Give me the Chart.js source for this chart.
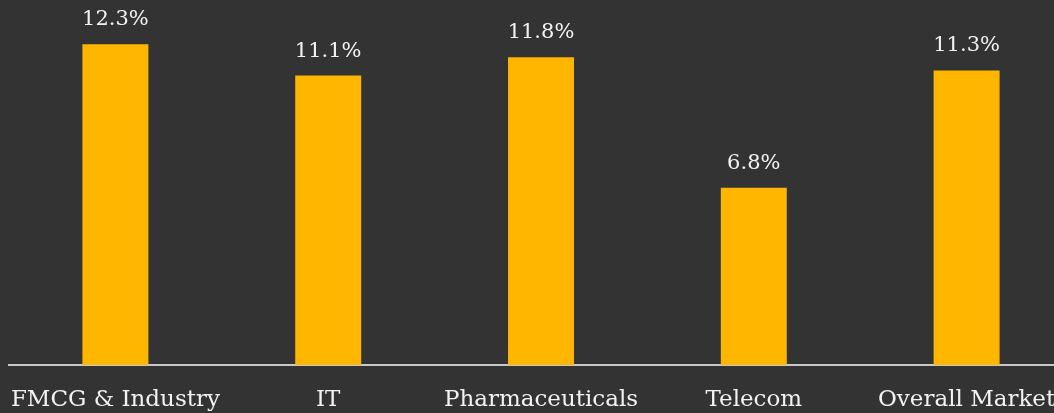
<!DOCTYPE html>
<html>
<head>
<meta charset="utf-8">
<script src="https://cdn.jsdelivr.net/npm/chart.js@4.4.7/dist/chart.umd.min.js"></script>
<style>
  html, body { margin: 0; padding: 0; background: #333333; overflow: hidden; }
  #wrap { width: 1073px; height: 413px; }
</style>
</head>
<body>
<div id="wrap"><canvas id="growthChart" width="1073" height="413"></canvas></div>
<script>
const categories = ["FMCG & Industry", "IT", "Pharmaceuticals", "Telecom", "Overall Market"];
const growthValues = [12.3, 11.1, 11.8, 6.8, 11.3];
const valueLabels = ["12.3%", "11.1%", "11.8%", "6.8%", "11.3%"];

const fontFamily = "'DejaVu Serif', 'Liberation Serif', serif";
const textColor = "#f2f2f2";

// draws the value text above each bar
const valueLabelPlugin = {
  id: "valueLabels",
  afterDatasetsDraw(chart) {
    const context = chart.ctx;
    const meta = chart.getDatasetMeta(0);
    context.save();
    context.fillStyle = textColor;
    context.font = `21px ${fontFamily}`;
    context.textAlign = "center";
    context.textBaseline = "bottom";
    meta.data.forEach((bar, index) => {
      context.fillText(valueLabels[index], bar.x, bar.y - 14);
    });
    context.restore();
  },
};

new Chart(document.querySelector("#growthChart"), {
  type: "bar",
  data: {
    labels: categories,
    datasets: [{
      data: growthValues,
      backgroundColor: "#FFB600",
      borderWidth: 0,
      categoryPercentage: 1,
      barPercentage: 0.31,
    }],
  },
  options: {
    responsive: false,
    animation: false,
    layout: {
      padding: { left: 9, right: 0, top: 0, bottom: 0 },
    },
    plugins: {
      legend: { display: false },
      tooltip: { enabled: false },
    },
    scales: {
      x: {
        grid: { display: false, drawTicks: false },
        border: { display: true, color: "#c8c8c8", width: 2 },
        ticks: {
          color: textColor,
          padding: 21,
          maxRotation: 0,
          autoSkip: false,
          font: { family: fontFamily, size: 23 },
        },
        afterFit(scale) {
          // labels may run past the plot edges, like the original
          scale.height = 48;
          scale.paddingLeft = 0;
          scale.paddingRight = 0;
        },
      },
      y: {
        display: false,
        min: 0,
        max: 14,
      },
    },
  },
  plugins: [valueLabelPlugin],
});
</script>
</body>
</html>
